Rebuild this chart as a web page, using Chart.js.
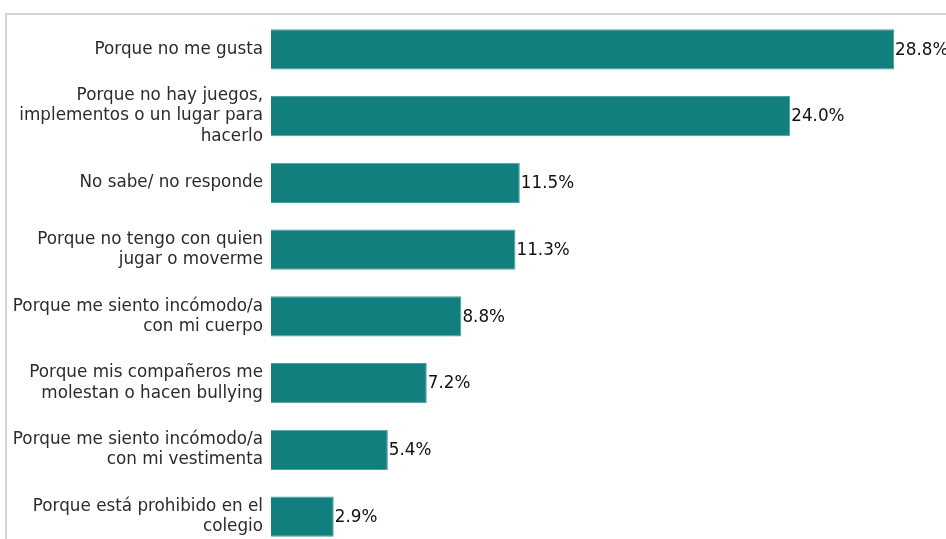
<!DOCTYPE html>
<html>
<head>
<meta charset="utf-8">
<script src="https://cdn.jsdelivr.net/npm/chart.js@4"></script>
<style>
  html, body { margin: 0; padding: 0; background: #fff; overflow: hidden; }
  #frame {
    position: absolute; left: 5px; top: 13px;
    width: 960px; height: 560px;
    border-left: 2px solid #d4d4d4; border-top: 2px solid #d4d4d4;
  }
  #wrap { position: absolute; left: 0; top: 0; width: 939px; height: 535px; }
</style>
</head>
<body>
<div id="frame"><div id="wrap"><canvas id="chart"></canvas></div></div>
<script>
const categories = [
  'Porque no me gusta',
  ['Porque no hay juegos,', 'implementos o un lugar para', 'hacerlo'],
  'No sabe/ no responde',
  ['Porque no tengo con quien', 'jugar o moverme'],
  ['Porque me siento incómodo/a', 'con mi cuerpo'],
  ['Porque mis compañeros me', 'molestan o hacen bullying'],
  ['Porque me siento incómodo/a', 'con mi vestimenta'],
  ['Porque está prohibido en el', 'colegio'],
];
const percents = [28.8, 24.0, 11.5, 11.3, 8.8, 7.2, 5.4, 2.9];

// writes "xx.x%" just past the end of each bar
const valueLabels = {
  id: 'valueLabels',
  afterDatasetsDraw(chart) {
    const ctx = chart.ctx;
    const meta = chart.getDatasetMeta(0);
    ctx.save();
    ctx.font = '16.8px "DejaVu Sans"';
    ctx.fillStyle = '#111';
    ctx.textAlign = 'left';
    ctx.textBaseline = 'middle';
    meta.data.forEach((bar, i) => {
      ctx.fillText(percents[i].toFixed(1) + '%', bar.x + 1, bar.y + 1);
    });
    ctx.restore();
  }
};

new Chart(document.getElementById('chart'), {
  type: 'bar',
  data: {
    labels: categories,
    datasets: [{
      data: percents,
      backgroundColor: '#107f7e',
      borderColor: '#4f9f9d',
      borderWidth: 1,
      barPercentage: 0.6,
      categoryPercentage: 1.0,
    }],
  },
  options: {
    indexAxis: 'y',
    responsive: true,
    maintainAspectRatio: false,
    animation: false,
    layout: { padding: { top: 1, bottom: 0, left: 0, right: 0 } },
    plugins: {
      legend: { display: false },
      tooltip: { enabled: false },
    },
    scales: {
      x: {
        display: false,
        min: 0,
        max: 31.2,
      },
      y: {
        grid: { display: false, drawTicks: false },
        border: { display: false },
        ticks: {
          color: '#2b2b2b',
          padding: 8,
          font: { family: 'DejaVu Sans', size: 16.8, lineHeight: 1.2 },
        },
        afterFit(scale) {
          // fixed label column; no extra room for overhanging labels
          scale.width = 264;
          scale.paddingTop = 0;
          scale.paddingBottom = 0;
        },
      },
    },
  },
  plugins: [valueLabels],
});
</script>
</body>
</html>
